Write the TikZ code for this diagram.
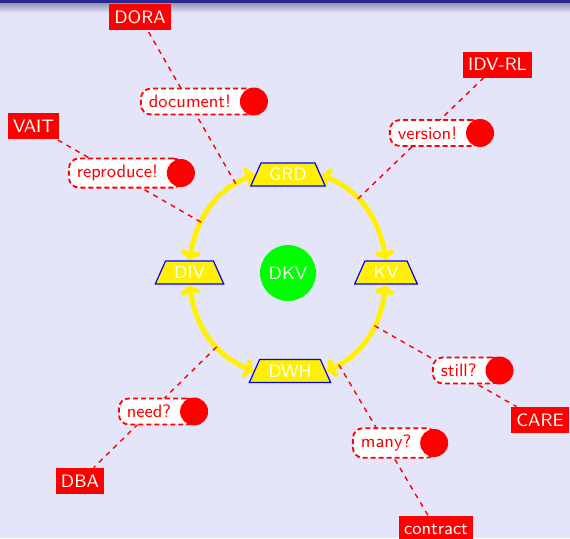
\documentclass[tikz,border=0pt]{standalone}
\usetikzlibrary{shapes.geometric,arrows.meta}
\definecolor{bg}{RGB}{229,229,250}
\definecolor{yel}{RGB}{255,240,0}
\definecolor{topblue}{RGB}{40,40,140}
\definecolor{topgray}{RGB}{140,140,175}
\pgfdeclarelayer{bgl}
\pgfdeclarelayer{arcs}
\pgfdeclarelayer{lines}
\pgfsetlayers{bgl,arcs,lines,main}
\begin{document}
\begin{tikzpicture}[x=0.5pt,y=-0.5pt,
  font=\sffamily\fontsize{9}{11}\selectfont,
  tnode/.style={trapezium, trapezium left angle=66, trapezium right angle=66,
    fill=yel, draw=blue, line width=0.6pt, text=white,
    inner xsep=4pt, inner ysep=2.5pt, minimum height=11.5pt},
  lbl/.style={fill=red, text=white, inner xsep=2.5pt, inner ysep=0pt, minimum height=13pt},
  bubble/.style={draw=red, dash pattern=on 2.5pt off 1.5pt, line width=0.9pt,
    fill=white, rounded corners=5pt, text=red, inner xsep=4pt, inner ysep=3.3pt, anchor=west},
  dot/.style={circle, fill=red, minimum size=14pt, inner sep=0pt},
  dline/.style={red, line width=0.7pt, dash pattern=on 2.5pt off 2.5pt},
  yarrow/.style={draw=yel, line width=2.5pt, {To[length=5pt,width=9.5pt]}-{To[length=5pt,width=9.5pt]}},
  hub/.style={circle, fill=green, text=white, minimum size=28pt, inner sep=0pt}
]
\useasboundingbox (0,0) rectangle (570,538);
\begin{pgfonlayer}{bgl}
  \fill[bg] (0,0) rectangle (570,538);
  \shade[top color=topgray, bottom color=bg] (0,2) rectangle (570,13);
  \fill[topblue] (0,0) rectangle (570,2.5);
\end{pgfonlayer}

% centre nodes
\node[tnode] (GRD) at (288,174.5) {GRD};
\node[tnode] (DIV) at (189.5,272.5) {DIV};
\node[tnode] (KV) at (386,272.5) {KV};
\node[tnode] (DWH) at (290,371) {DWH};
\node[hub] (DKV) at (288,273) {DKV};

% labels
\node[lbl] (DORA) at (140,17) {DORA};
\node[lbl] (IDVRL) at (497.5,64.5) {IDV-RL};
\node[lbl] (VAIT) at (33.5,126) {VAIT};
\node[lbl] (CARE) at (540,420) {CARE};
\node[lbl] (DBA) at (80,481) {DBA};
\node[lbl] (contract) at (436,529) {contract};

% bubbles
\node[bubble] (b1) at (140,101.5) {document!\kern8.5pt};
\node[bubble] (b2) at (389,133) {version!\kern8.5pt};
\node[bubble] (b3) at (68,173) {reproduce!\kern8.5pt};
\node[bubble] (b4) at (118,411.5) {need?\kern8.5pt};
\node[bubble] (b5) at (432,370.5) {still?\kern8.5pt};
\node[bubble] (b6) at (352,443) {many?\kern8.5pt};
\foreach \b in {b1,b2,b3,b4,b5,b6}
  \node[dot] (\b d) at ([xshift=-1.5pt]\b.east) {};

% arcs
\begin{pgfonlayer}{arcs}
  \draw[yarrow] (GRD.west) to[out=200,in=81]
     coordinate[pos=0.18] (a1) coordinate[pos=0.66] (a2) (DIV.north);
  \draw[yarrow] (GRD.east) to[out=-22,in=99]
     coordinate[pos=0.39] (a3) (KV.north);
  \draw[yarrow] (KV.south) to[out=-98,in=23]
     coordinate[pos=0.376] (a4) coordinate[pos=0.88] (a5) (DWH.east);
  \draw[yarrow] (DIV.south) to[out=-82,in=159]
     coordinate[pos=0.61] (a6) (DWH.west);
\end{pgfonlayer}

% connectors
\begin{pgfonlayer}{lines}
  \draw[dline] (a1) -- (DORA);
  \draw[dline] (a2) -- (VAIT);
  \draw[dline] (a3) -- (IDVRL);
  \draw[dline] (a4) -- (CARE);
  \draw[dline] (a5) -- (contract);
  \draw[dline] (a6) -- (DBA);
\end{pgfonlayer}
\end{tikzpicture}
\end{document}
